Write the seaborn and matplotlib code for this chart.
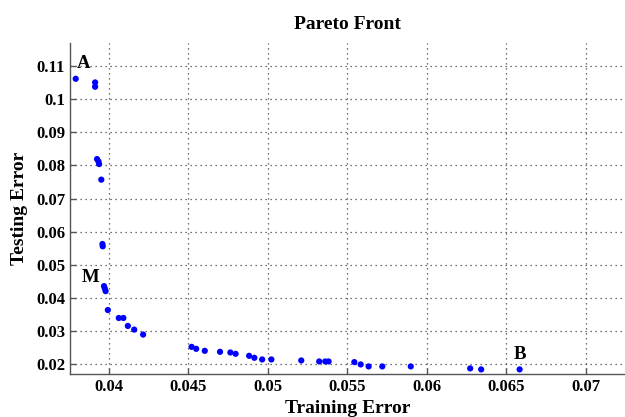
import matplotlib
matplotlib.use("Agg")
import matplotlib.pyplot as plt
import seaborn as sns
import pandas as pd

train_err = [0.03792, 0.03914, 0.03914, 0.03926, 0.03935, 0.03939, 0.03953,
             0.03960, 0.03962, 0.03970, 0.03975, 0.03980, 0.03994,
             0.04063, 0.04092, 0.04120, 0.04160, 0.04216,
             0.04521, 0.04550, 0.04604, 0.04700, 0.04765, 0.04798,
             0.04883, 0.04916, 0.04965, 0.05023, 0.05211,
             0.05324, 0.05362, 0.05383, 0.05545, 0.05585, 0.05635,
             0.05721, 0.05900, 0.06274, 0.06343, 0.06585]
test_err = [0.1061, 0.1050, 0.1037, 0.0819, 0.0812, 0.0804, 0.0757,
            0.0563, 0.0556, 0.0436, 0.0429, 0.0421, 0.0364,
            0.0340, 0.0340, 0.0316, 0.0305, 0.0290,
            0.0253, 0.0247, 0.0241, 0.0238, 0.0236, 0.0232,
            0.0226, 0.0220, 0.0215, 0.0215, 0.0212,
            0.0209, 0.0209, 0.0209, 0.0207, 0.0200, 0.0194,
            0.0194, 0.0194, 0.0188, 0.0185, 0.0185]

point_labels = ["A", "M", "B"]
label_x = [0.03844, 0.03887, 0.06587]
label_y = [0.1108, 0.0461, 0.0231]

x_ticks = [0.04, 0.045, 0.05, 0.055, 0.06, 0.065, 0.07]
x_ticklabels = ["0.04", "0.045", "0.05", "0.055", "0.06", "0.065", "0.07"]
y_ticks = [0.02, 0.03, 0.04, 0.05, 0.06, 0.07, 0.08, 0.09, 0.1, 0.11]
y_ticklabels = ["0.02", "0.03", "0.04", "0.05", "0.06", "0.07", "0.08", "0.09", "0.1", "0.11"]

df = pd.DataFrame({"Training Error": train_err, "Testing Error": test_err})

sns.set_style("white")
plt.rcParams["font.family"] = ["Liberation Serif", "DejaVu Serif"]
plt.rcParams["font.weight"] = "bold"
plt.rcParams["text.color"] = "black"
plt.rcParams["axes.labelcolor"] = "black"

fig = plt.figure(figsize=(6.25, 4.17), dpi=100)
ax = fig.add_axes([0.112, 0.103, 0.888, 0.794])

sns.scatterplot(data=df, x="Training Error", y="Testing Error", ax=ax,
                color="#0000ff", s=20, edgecolor="none", zorder=3)

for t, lx, ly in zip(point_labels, label_x, label_y):
    ax.text(lx, ly, t, ha="center", va="center", fontsize=13.5, fontweight="bold", color="black")

ax.set_xlim(0.03756, 0.07248)
ax.set_ylim(0.0171, 0.1169)
ax.set_xticks(x_ticks)
ax.set_xticklabels(x_ticklabels)
ax.set_yticks(y_ticks)
ax.set_yticklabels(y_ticklabels)

ax.grid(True, linestyle=(0, (1, 3)), color="#444444", linewidth=0.9)
ax.set_axisbelow(True)
for side in ["top", "right"]:
    ax.spines[side].set_visible(False)
for side in ["left", "bottom"]:
    ax.spines[side].set_color("#555555")
    ax.spines[side].set_linewidth(1.0)

ax.tick_params(direction="in", length=4, width=1, colors="#555555",
               labelcolor="black", labelsize=12, left=True, bottom=True)
for lab in ax.get_xticklabels() + ax.get_yticklabels():
    lab.set_fontweight("bold")

ax.set_xlabel("Training Error", fontsize=14, fontweight="bold", labelpad=4, color="black")
ax.set_ylabel("Testing Error", fontsize=14, fontweight="bold", labelpad=6, color="black")
ax.set_title("Pareto Front", fontsize=14, fontweight="bold", pad=10, color="black")

fig.savefig("out.png", dpi=100)
